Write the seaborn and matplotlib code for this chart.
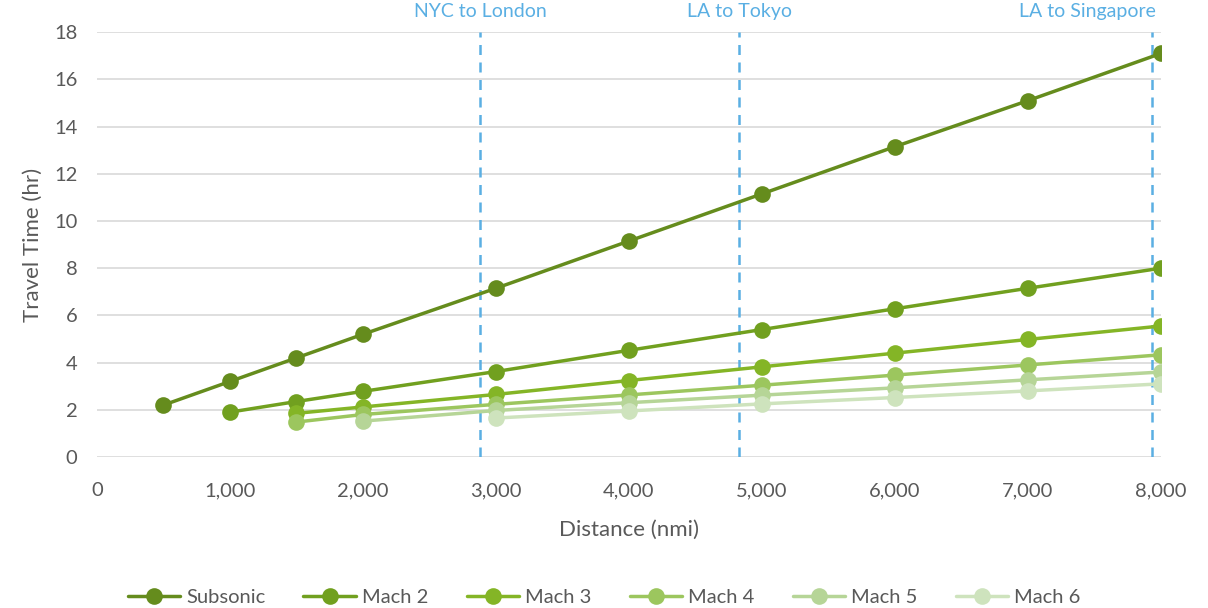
import matplotlib
matplotlib.use("Agg")
import matplotlib.pyplot as plt
from matplotlib.ticker import FuncFormatter
import seaborn as sns
import pandas as pd

# Travel time (hours) versus distance (nautical miles) for each cruise speed
distances = [500, 1000, 1500, 2000, 3000, 4000, 5000, 6000, 7000, 8000]
subsonic = [2.2, 3.2, 4.2, 5.2, 7.15, 9.15, 11.15, 13.15, 15.1, 17.1]
mach2_x = [1000, 1500, 2000, 3000, 4000, 5000, 6000, 7000, 8000]
mach2 = [1.9, 2.35, 2.78, 3.62, 4.52, 5.4, 6.28, 7.15, 8.0]
mach3_x = [1500, 2000, 3000, 4000, 5000, 6000, 7000, 8000]
mach3 = [1.85, 2.12, 2.65, 3.24, 3.82, 4.4, 4.98, 5.55]
mach4_x = [1500, 2000, 3000, 4000, 5000, 6000, 7000, 8000]
mach4 = [1.48, 1.8, 2.23, 2.63, 3.04, 3.47, 3.9, 4.33]
mach5_x = [2000, 3000, 4000, 5000, 6000, 7000, 8000]
mach5 = [1.52, 1.97, 2.3, 2.62, 2.93, 3.27, 3.6]
mach6_x = [3000, 4000, 5000, 6000, 7000, 8000]
mach6 = [1.65, 1.95, 2.25, 2.52, 2.8, 3.1]

series_names = ["Subsonic", "Mach 2", "Mach 3", "Mach 4", "Mach 5", "Mach 6"]
series_x = [distances, mach2_x, mach3_x, mach4_x, mach5_x, mach6_x]
series_y = [subsonic, mach2, mach3, mach4, mach5, mach6]
colors = ["#658c1d", "#71a01f", "#84b526", "#9cc65e", "#b6d597", "#cee3bd"]

# Reference routes
route_names = ["NYC to London", "LA to Tokyo", "LA to Singapore"]
route_dist = [2880, 4830, 7930]

rows = []
for name, xs, ys in zip(series_names, series_x, series_y):
    for x, y in zip(xs, ys):
        rows.append({"Distance": x, "Time": y, "Series": name})
df = pd.DataFrame(rows)

sns.set_theme(style="white")
plt.rcParams["font.family"] = ["Lato", "DejaVu Sans"]
text_color = "#595959"
route_color = "#5aafe3"

fig = plt.figure(figsize=(12.08, 6.08), dpi=100)
ax = fig.add_axes([0.0803, 0.2484, 0.8807, 0.6986])

sns.lineplot(
    data=df, x="Distance", y="Time", hue="Series", hue_order=series_names,
    palette=colors, marker="o", markersize=12, markeredgewidth=0,
    linewidth=2.5, ax=ax, legend=False, zorder=3,
)

for d in route_dist:
    ax.axvline(d, color=route_color, linestyle=(0, (4, 3)), linewidth=1.8, zorder=2)

label_kw = dict(color=route_color, fontsize=14, va="bottom", clip_on=False)
ax.text(route_dist[0], 18.5, route_names[0], ha="center", **label_kw)
ax.text(route_dist[1], 18.5, route_names[1], ha="center", **label_kw)
ax.text(route_dist[2] + 30, 18.5, route_names[2], ha="right", **label_kw)

ax.set_xlim(0, 8000)
ax.set_ylim(0, 18)
ax.set_xticks(range(0, 8001, 1000))
ax.set_yticks(range(0, 19, 2))
ax.xaxis.set_major_formatter(FuncFormatter(lambda v, p: f"{int(v):,}"))
ax.grid(axis="y", color="#d9d9d9", linewidth=1.2, zorder=0)
ax.grid(axis="x", visible=False)
for s in ax.spines.values():
    s.set_visible(False)
ax.tick_params(axis="both", length=0, labelsize=14.5, colors=text_color)
ax.tick_params(axis="x", pad=18)
ax.tick_params(axis="y", pad=14)
ax.set_xlabel("Distance (nmi)", fontsize=16, color=text_color, labelpad=15)
ax.set_ylabel("Travel Time (hr)", fontsize=16, color=text_color, labelpad=8)

handles = [
    plt.Line2D([], [], color=c, marker="o", markersize=12, markeredgewidth=0, linewidth=2.5)
    for c in colors
]
fig.legend(handles, series_names, loc="center", bbox_to_anchor=(0.5, 0.018),
           ncol=6, frameon=False, fontsize=14.5, labelcolor=text_color,
           handlelength=2.6, handletextpad=0.3, columnspacing=1.9)

fig.savefig("out.png", dpi=100)
